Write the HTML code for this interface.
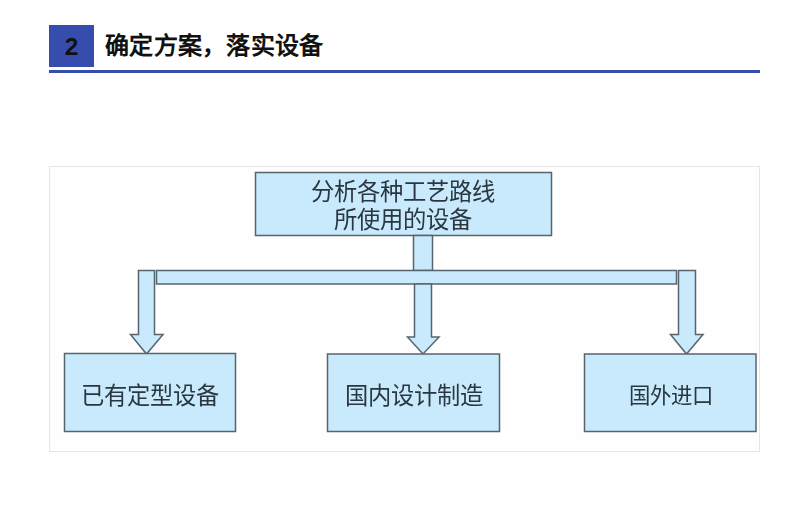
<!DOCTYPE html>
<html lang="zh-CN"><head><meta charset="utf-8">
<style>
html,body{margin:0;padding:0;background:#fff;}
body{width:808px;height:512px;position:relative;overflow:hidden;font-family:"Liberation Sans",sans-serif;}
.num{position:absolute;left:49px;top:25px;width:45px;height:42px;background:#374dae;color:#111;font-weight:bold;font-size:24.5px;line-height:43px;text-align:center;}
.title{position:absolute;left:105px;top:28px;font-size:24px;letter-spacing:0.25px;font-weight:bold;color:#111;line-height:36px;white-space:nowrap;}
.rule{position:absolute;left:49px;top:70px;width:711px;height:3px;background:#374dae;}
.frame{position:absolute;left:49px;top:166px;width:709px;height:284px;border:1px solid #e6e6e6;background:#fdfefd;}
svg{position:absolute;left:0;top:0;filter:blur(0.3px);}
.t{position:absolute;filter:blur(0.25px);color:#2a3640;font-weight:300;font-size:23.3px;line-height:28.5px;white-space:nowrap;text-align:center;}
</style></head>
<body>
<div class="num">2</div>
<div class="title">确定方案，落实设备</div>
<div class="rule"></div>
<div class="frame"></div>
<svg width="808" height="512" viewBox="0 0 808 512">
  <g fill="#c8eafc" stroke="#58646d" stroke-width="1.5">
    <rect x="255.5" y="172.5" width="296" height="63"/>
    <rect x="413.5" y="235.5" width="19" height="35"/>
    <rect x="156.5" y="270.5" width="520" height="13.5"/>
    <!-- left arrow -->
    <path d="M138.5 270.5 H154.5 V334.5 H163 L146.5 354 L130.5 334.5 H138.5 Z"/>
    <!-- middle arrow -->
    <path d="M414.5 284 H431.5 V337 H439 L423 354 L407.5 337 H414.5 Z"/>
    <!-- right arrow -->
    <path d="M678.5 270.5 H695.5 V334.5 H703 L686.5 354 L670.5 334.5 H678.5 Z"/>
    <rect x="64.5" y="353.5" width="171" height="78"/>
    <rect x="327.5" y="354" width="172" height="77.5"/>
    <rect x="584.5" y="354" width="171.5" height="77.5"/>
  </g>
</svg>
<div class="t" style="left:254px;top:177.5px;width:297px;">分析各种工艺路线<br>所使用的设备</div>
<div class="t" style="left:64px;top:381.5px;width:172px;">已有定型设备</div>
<div class="t" style="left:327px;top:381.5px;width:173px;">国内设计制造</div>
<div class="t" style="left:584px;top:381.5px;width:172px;font-size:21.4px;text-indent:1px;">国外进口</div>
</body></html>
